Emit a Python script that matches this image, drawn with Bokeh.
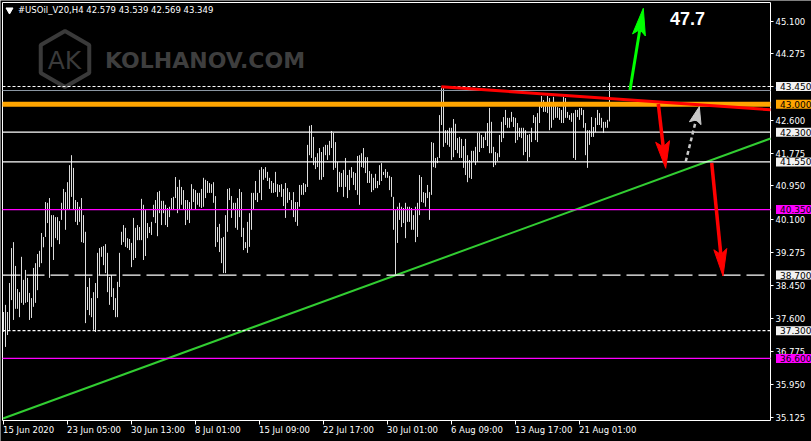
import math
from bokeh.plotting import figure
from bokeh.models import Range1d, Label, FixedTicker, NumeralTickFormatter
from bokeh.embed import file_html
from bokeh.resources import INLINE
from bokeh.core.properties import value

# ---------------- data ----------------
symbol_title = "#USOil_V20,H4  42.579 43.539 42.569 43.349"

highs = [
    37.77, 37.95, 37.77, 38.50, 39.38, 39.53, 38.93, 38.35, 38.27, 39.16,
    38.58, 38.83, 38.63, 38.25, 38.12, 38.88, 39.00, 39.23, 39.31, 39.76,
    39.66, 40.54, 40.52, 40.64, 40.21, 40.21, 40.16, 40.16, 40.06, 40.52,
    40.87, 40.79, 41.04, 41.47, 41.72, 41.40, 40.59, 40.54, 40.42, 40.64,
    40.21, 39.79, 38.40, 38.63, 38.12, 38.27, 38.50, 39.26, 39.38, 39.41,
    39.43, 39.48, 39.26, 38.65, 38.70, 38.37, 38.12, 38.53, 39.26, 39.79,
    39.96, 39.89, 39.63, 39.61, 39.51, 40.14, 39.89, 39.96, 39.91, 40.62,
    40.47, 40.34, 40.01, 39.91, 40.04, 40.47,
    40.59, 40.79, 40.82, 40.57, 40.57, 40.47, 40.39, 40.42, 40.64, 40.67,
    41.17, 40.92, 41.10, 40.92, 40.84, 40.59, 40.59, 40.54, 40.99, 40.87,
    40.84, 40.77, 40.77, 40.87, 41.15, 41.10, 41.07, 41.02, 40.99, 41.04,
    40.69, 39.91, 39.99, 39.63, 39.66, 40.21, 40.87, 40.89, 40.69, 40.52,
    40.52, 40.64, 40.87, 40.79, 39.89, 39.53, 40.04, 40.26, 40.77, 40.77,
    41.07, 40.77, 41.35, 41.42, 41.37, 41.42, 41.30, 41.15, 41.07, 41.02,
    41.30, 40.99, 40.97, 40.99, 40.87, 41.02, 40.89, 40.79, 40.59, 40.79,
    40.54, 40.54, 40.97, 40.97, 41.02, 40.99,
    41.98, 42.46, 42.48, 42.18, 41.67, 41.77, 41.90, 41.80, 41.93, 41.98,
    41.98, 42.08, 42.33, 42.28, 42.05, 41.55, 41.30, 41.27, 41.35, 41.65,
    41.22, 41.35, 41.42, 41.30, 41.27, 41.70, 41.72, 41.77, 41.90, 41.67,
    41.67, 41.32, 41.25, 41.15, 41.25, 41.07, 41.47, 41.52, 41.30, 41.37,
    41.30, 41.20, 41.17, 40.67, 40.34, 40.42, 40.52, 40.42, 40.39, 40.52,
    40.42, 40.42, 40.39, 40.21, 40.42, 40.52, 41.22, 41.17, 40.79, 40.77,
    40.97, 40.79, 42.05, 42.03, 41.65, 41.67, 42.73, 43.41, 43.41, 42.35,
    42.35, 42.41, 42.41, 42.63, 42.51, 42.15, 42.18,
    42.13, 41.95, 42.13, 41.72, 41.60, 41.83, 41.83, 41.93, 42.28, 42.28,
    42.23, 42.18, 42.30, 42.53, 42.91, 42.56, 41.93, 41.80, 41.77, 42.23,
    42.56, 42.68, 42.86, 42.66, 42.66, 42.81, 42.68, 42.66, 42.53, 42.41,
    42.41, 42.41, 42.35, 42.23, 42.25, 42.41, 42.73, 42.68, 42.78, 43.06,
    43.21, 43.11, 42.98, 43.21, 43.16, 43.04, 43.19, 43.04, 42.93, 42.91,
    42.86, 43.19, 43.16, 42.81, 42.73, 42.78, 42.78, 42.86, 42.86, 42.91,
    42.91, 42.86, 42.53, 42.35, 42.35, 42.68, 42.43, 42.66, 42.86, 42.78,
    42.66, 42.56, 42.56, 42.61, 43.539,
]

lows = [
    37.27, 36.89, 37.19, 37.32, 38.07, 37.57, 37.85, 37.85, 37.64, 38.00,
    37.95, 38.00, 38.02, 37.57, 37.62, 37.90, 38.00, 38.32, 38.90, 39.00,
    39.40, 39.66, 40.01, 38.63, 39.41, 39.08, 39.63, 39.58, 39.48, 40.09,
    40.34, 39.84, 40.34, 40.34, 40.67, 40.34, 40.04, 39.96, 40.04, 39.53,
    39.51, 37.49, 37.82, 37.69, 37.64, 37.32, 37.27, 38.12, 38.70, 39.16,
    38.95, 38.75, 38.27, 37.95, 38.15, 37.82, 37.64, 37.64, 38.40, 39.46,
    39.53, 39.41, 39.38, 39.33, 38.90, 39.08, 39.13, 39.58, 39.58, 39.58,
    39.08, 39.18, 39.63, 39.76, 39.71, 40.16,
    40.01, 39.68, 40.26, 39.96, 40.26, 39.96, 39.91, 40.16, 40.34, 40.34,
    40.64, 40.26, 40.34, 40.47, 40.34, 39.96, 40.09, 40.01, 40.34, 40.54,
    40.34, 40.47, 40.42, 40.39, 40.42, 40.64, 40.77, 40.77, 40.77, 40.52,
    39.41, 39.53, 39.28, 39.00, 38.75, 38.75, 39.79, 40.59, 40.14, 40.34,
    39.89, 39.84, 40.16, 39.66, 39.33, 39.38, 39.26, 39.41, 39.84, 40.34,
    40.59, 40.54, 40.77, 40.59, 41.10, 41.15, 41.07, 40.87, 40.77, 40.77,
    40.79, 40.67, 40.79, 40.67, 40.44, 40.14, 40.52, 40.59, 40.34, 40.16,
    40.04, 39.94, 40.42, 40.72, 40.72, 40.79,
    40.92, 41.72, 41.65, 41.47, 41.37, 41.42, 41.10, 41.10, 41.17, 41.72,
    41.60, 41.72, 41.90, 41.35, 41.40, 40.79, 40.92, 40.92, 40.67, 40.92,
    40.64, 40.84, 41.15, 40.97, 40.84, 40.72, 40.47, 41.42, 41.40, 41.27,
    41.02, 41.02, 40.79, 40.84, 40.89, 40.89, 40.97, 41.07, 41.22, 41.15,
    41.15, 40.84, 40.67, 39.84, 38.70, 39.51, 40.09, 39.91, 40.01, 39.63,
    40.04, 40.04, 39.84, 39.84, 39.53, 39.66, 40.21, 40.54, 40.52, 40.42,
    40.64, 40.09, 40.72, 41.42, 41.40, 41.52, 41.65, 42.48, 41.93, 42.03,
    41.98, 41.93, 41.60, 41.67, 41.85, 41.77, 41.65,
    41.65, 41.40, 41.22, 41.04, 41.15, 41.12, 41.55, 41.47, 41.55, 41.80,
    41.90, 41.90, 42.10, 41.95, 41.77, 41.77, 41.42, 41.47, 41.57, 41.67,
    42.05, 42.15, 42.48, 42.41, 42.41, 42.56, 42.43, 42.03, 42.10, 42.18,
    42.15, 41.72, 41.80, 41.57, 41.67, 42.05, 42.53, 42.10, 42.05, 42.53,
    42.91, 42.81, 42.81, 42.78, 42.35, 42.41, 42.61, 42.66, 42.66, 42.61,
    42.53, 42.53, 42.66, 42.66, 42.61, 42.56, 41.65, 41.60, 42.68, 42.61,
    42.73, 42.41, 41.72, 41.40, 41.98, 42.18, 42.18, 42.30, 42.48, 42.48,
    42.41, 42.28, 42.41, 42.41, 42.569,
]

price_ticks = [45.1, 44.275, 43.45, 42.6, 41.775, 40.95, 40.1, 39.275,
               38.45, 37.6, 36.775, 35.95, 35.125]
time_tick_bars = [0, 32, 64, 96, 128, 160, 192, 224, 256, 288]
time_tick_labels = ["15 Jun 2020", "23 Jun 05:00", "30 Jun 13:00", "8 Jul 01:00",
                    "15 Jul 09:00", "22 Jul 17:00", "30 Jul 01:00", "6 Aug 09:00",
                    "13 Aug 17:00", "21 Aug 01:00"]

# horizontal levels
level_prices = [43.45, 43.0, 42.3, 41.55, 40.35, 38.7, 37.3, 36.6]
level_colors = ["#ffffff", "#ffa500", "#ffffff", "#ffffff", "#ff00ff", "#ffffff", "#ffffff", "#ff00ff"]
level_widths = [1, 5, 1.2, 1.2, 1.2, 1.2, 1.2, 1.2]
level_dashes = ["3 2", "solid", "solid", "solid", "solid", "18 6", "3 2", "solid"]
level_label_bg = ["#f2f2f2", "#ffa500", "#f2f2f2", "#f2f2f2", "#ff00ff", "#f2f2f2", "#f2f2f2", "#ff00ff"]
bid_price = 43.349

# trend lines (bar index, price)
green_trend_x = [-0.25, 383.5]
green_trend_y = [35.088, 42.14]
red_trend_x = [218.9, 383.5]
red_trend_y = [43.445, 42.863]

target_text = "47.7"

# ---------------- geometry helpers (rendered pixel -> data) ----------------
PXX, PXY = 2.0, 39.7
YTOP = 45.5786


def X(px):
    return (px - 3.5) / PXX


def Y(py):
    return YTOP - (py - 2.0) / PXY


FONT = "DejaVu Sans"

p = figure(width=811, height=441, output_backend="svg", toolbar_location=None,
           x_range=Range1d(X(0.5), X(811.5)), y_range=Range1d(Y(441.5), Y(0.5)),
           y_axis_location="right",
           min_border_left=0, min_border_top=0, min_border_right=0, min_border_bottom=0,
           background_fill_color="black", border_fill_color="black",
           outline_line_color=None)
p.grid.visible = False

LEFT, RIGHT = X(2.5), X(770.5)
TOP, BOTTOM = Y(2.5), Y(420.5)

ya = p.yaxis[0]
ya.fixed_location = RIGHT
ya.ticker = FixedTicker(ticks=price_ticks)
ya.formatter = NumeralTickFormatter(format="0.000")
ya.major_tick_in = 0
ya.major_tick_out = 3
ya.minor_tick_line_color = None
ya.major_tick_line_color = "white"
ya.axis_line_color = None
ya.major_label_standoff = 2
ya.major_label_text_color = "white"
ya.major_label_text_font = FONT
ya.major_label_text_font_size = "8.5px"

xa = p.xaxis[0]
xa.fixed_location = BOTTOM
xa.ticker = FixedTicker(ticks=time_tick_bars)
xa.major_tick_in = 0
xa.major_tick_out = 4
xa.minor_tick_line_color = None
xa.major_tick_line_color = "white"
xa.axis_line_color = None
xa.major_label_text_alpha = 0

# watermark
p.scatter(x=[X(65)], y=[Y(59)], marker="hex", angle=math.pi / 2, size=56,
          fill_color=None, line_color="#3a3a3a", line_width=4)
p.text(x=[X(64.5)], y=[Y(60)], text=["AK"], text_align="center", text_baseline="middle",
       text_font=value(FONT), text_font_size=value("25px"), text_color="#3a3a3a")
p.text(x=[X(105)], y=[Y(60)], text=["KOLHANOV.COM"], text_align="left", text_baseline="middle",
       text_font=value(FONT), text_font_style="bold", text_font_size=value("22px"),
       text_color="#3e3e3e")

# bars
idx = list(range(len(highs)))
p.segment(x0=idx, y0=lows, x1=idx, y1=highs, line_color="#dcdcdc", line_width=1)

# chart border
p.quad(left=[LEFT], right=[RIGHT], top=[TOP], bottom=[BOTTOM],
       fill_color=None, line_color="white", line_width=1)

# trend lines
p.line(green_trend_x, green_trend_y, line_color="#32cd32", line_width=2)

# levels
for pr, c, w, d in zip(level_prices, level_colors, level_widths, level_dashes):
    p.segment(x0=[LEFT], y0=[pr], x1=[RIGHT], y1=[pr], line_color=c, line_width=w, line_dash=d)
p.segment(x0=[LEFT], y0=[bid_price], x1=[RIGHT], y1=[bid_price], line_color="#8a96a3", line_width=1)

p.line(red_trend_x, red_trend_y, line_color="#ff0000", line_width=3)


def arrow(x0, y0, x1, y1, color, head_len, head_w, shaft_w, dash="solid"):
    sx0, sy0 = x0 * PXX, -y0 * PXY
    sx1, sy1 = x1 * PXX, -y1 * PXY
    L = math.hypot(sx1 - sx0, sy1 - sy0)
    ux, uy = (sx1 - sx0) / L, (sy1 - sy0) / L
    nx, ny = -uy, ux
    bx, by = sx1 - ux * head_len, sy1 - uy * head_len
    mx, my = sx1 - ux * head_len * 0.8, sy1 - uy * head_len * 0.8
    pts = [(sx1, sy1), (bx + nx * head_w / 2, by + ny * head_w / 2), (mx, my),
           (bx - nx * head_w / 2, by - ny * head_w / 2)]
    p.line([x0, mx / PXX], [y0, -my / PXY], line_color=color, line_width=shaft_w, line_dash=dash)
    p.patch([q[0] / PXX for q in pts], [-q[1] / PXY for q in pts],
            fill_color=color, line_color=color, line_width=1)


arrow(X(630), Y(90), X(643.3), Y(8.3), "#00ff00", 27, 13, 3)
arrow(X(658.3), Y(104), X(665.7), Y(168.3), "#ff0000", 27, 14, 3.5)
arrow(X(711.7), Y(163), X(723), Y(276), "#ff0000", 27, 13, 3.5)
arrow(X(685.7), Y(161.7), X(699.3), Y(106.7), "#c8c8c8", 17, 12, 2.5, dash="4 3")

# title
p.scatter(x=[X(9.5)], y=[Y(10)], marker="inverted_triangle", size=7, color="white")
p.add_layout(Label(x=X(18), y=Y(10), text=symbol_title, text_align="left", text_baseline="middle",
                   text_color="white", text_font=FONT, text_font_size="8.5px"))

# 47.7 target
p.add_layout(Label(x=X(670), y=Y(18), text=target_text, text_align="left", text_baseline="middle",
                   text_color="white", text_font="Liberation Sans", text_font_style="bold",
                   text_font_size="18px"))

# time labels (left-aligned at their tick, as in the terminal)
for t, s in zip(time_tick_bars, time_tick_labels):
    p.add_layout(Label(x=t - 0.25, y=Y(430), text=s, text_align="left", text_baseline="middle",
                       text_color="white", text_font=FONT, text_font_size="8.5px"))

# price level boxes
for pr, bg in zip(level_prices, level_label_bg):
    p.add_layout(Label(x=X(776), y=pr, text=f"{pr:.3f}", text_align="left", text_baseline="middle",
                       text_color="black", text_font=FONT, text_font_size="9px",
                       background_fill_color=bg,
                       padding=dict(left=4, right=4, top=1, bottom=1)))

open("out.html", "w").write(file_html(p, INLINE))
